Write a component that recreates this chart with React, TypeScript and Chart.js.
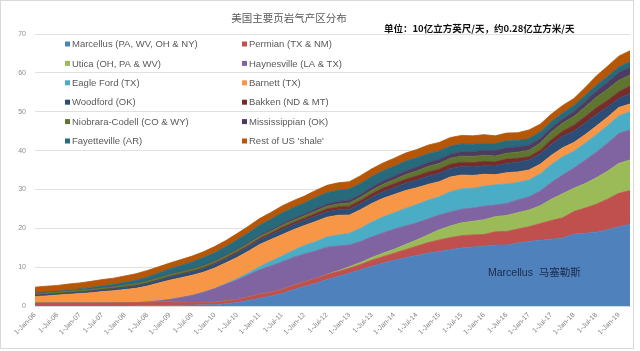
import React, { useEffect, useRef } from 'react';
import { Chart, registerables } from 'chart.js';

Chart.register(...registerables);

// Quarterly categories, Jan-2006 .. Apr-2019
const YEARS = ['06', '07', '08', '09', '10', '11', '12', '13', '14', '15', '16', '17', '18', '19'];
const QUARTER_MONTHS = ['Jan', 'Apr', 'Jul', 'Oct'];
const categories: string[] = YEARS.flatMap((y) => QUARTER_MONTHS.map((m) => `1-${m}-${y}`)).slice(0, 54);

const TITLE = '美国主要页岩气产区分布';
const UNIT_TEXT = '单位：10亿立方英尺/天，约0.28亿立方米/天';
const NOTE_TEXT = 'Marcellus  马塞勒斯';
const Y_TICKS = [0, 10, 20, 30, 40, 50, 60, 70];

const seriesNames = [
  'Marcellus (PA, WV, OH & NY)',
  'Permian (TX & NM)',
  'Utica (OH, PA & WV)',
  'Haynesville (LA & TX)',
  'Eagle Ford (TX)',
  'Barnett (TX)',
  'Woodford (OK)',
  'Bakken (ND & MT)',
  'Niobrara-Codell (CO & WY)',
  'Mississippian (OK)',
  'Fayetteville (AR)',
  "Rest of US 'shale'",
];

const seriesColors = [
  '#4F81BD', '#C0504D', '#9BBB59', '#8064A2', '#4BACC6', '#F79646',
  '#2C4D75', '#772C2A', '#5F7530', '#4D3B62', '#276A7C', '#B65708',
];

const marcellus = [
  0, 0, 0, 0,
  0, 0, 0, 0.02,
  0.03, 0.05, 0.08, 0.1,
  0.15, 0.2, 0.25, 0.3,
  0.35, 0.6, 0.9, 1.4,
  2.0, 2.5, 3.2, 4.2,
  5.0, 5.8, 6.8, 7.6,
  8.4, 9.3, 10.2, 11.0,
  11.8, 12.4, 13.0, 13.6,
  14.0, 14.5, 14.9, 15.2,
  15.4, 15.7, 15.7, 16.2,
  16.6, 16.9, 17.2, 17.5,
  18.5, 18.7, 19.0, 19.6,
  20.4, 21.0,
];
const permian = [
  0.8, 0.8, 0.8, 0.8,
  0.8, 0.8, 0.8, 0.8,
  0.8, 0.8, 0.85, 0.9,
  0.9, 0.75, 0.65, 0.6,
  0.6, 0.7, 0.8, 0.9,
  1.0, 1.0, 1.05, 1.1,
  1.2, 1.25, 1.3, 1.3,
  1.3, 1.4, 1.6, 1.7,
  1.8, 2.1, 2.4, 2.7,
  3.0, 3.1, 3.2, 3.1,
  3.0, 3.4, 3.5, 3.6,
  3.8, 4.3, 4.8, 5.2,
  5.8, 6.5, 7.2, 7.9,
  8.6, 8.7,
];
const utica = [
  0, 0, 0, 0,
  0, 0, 0, 0,
  0, 0, 0, 0,
  0, 0, 0, 0,
  0, 0, 0, 0,
  0, 0, 0, 0,
  0, 0, 0.05, 0.15,
  0.4, 0.5, 0.7, 0.9,
  1.0, 1.3, 1.6, 2.0,
  2.6, 3.0, 3.3, 3.5,
  3.8, 3.9, 4.1, 4.2,
  4.3, 4.6, 5.5, 6.2,
  6.0, 6.3, 6.8, 7.2,
  7.7, 7.9,
];
const haynesville = [
  0, 0, 0, 0,
  0, 0, 0, 0,
  0, 0, 0.1, 0.3,
  0.6, 1.2, 1.8, 2.6,
  3.5, 4.3, 5.0, 5.7,
  6.3, 6.8, 7.1, 7.2,
  7.2, 7.1, 7.0, 6.4,
  5.6, 5.4, 5.3, 5.2,
  5.2, 4.8, 4.4, 4.1,
  3.8, 3.6, 3.5, 3.4,
  3.5, 3.0, 3.1, 3.3,
  3.4, 3.8, 4.3, 4.8,
  5.2, 6.0, 6.6, 7.2,
  7.7, 7.7,
];
const eagleFord = [
  0, 0, 0, 0,
  0, 0, 0, 0,
  0, 0, 0, 0,
  0, 0, 0, 0,
  0, 0.1, 0.3, 0.5,
  0.8, 1.2, 1.5, 1.8,
  2.2, 2.4, 2.6, 2.8,
  3.0, 3.4, 3.8, 4.1,
  4.2, 4.5, 4.7, 4.8,
  4.7, 5.2, 5.2, 5.1,
  5.1, 5.2, 5.0, 4.5,
  4.3, 4.4, 4.6, 4.7,
  4.3, 4.4, 4.5, 4.5,
  4.5, 4.7,
];
const barnett = [
  1.6, 1.8, 2.0, 2.2,
  2.4, 2.6, 2.9, 3.1,
  3.4, 3.7, 4.1, 4.6,
  5.0, 5.1, 5.2, 5.2,
  5.3, 5.4, 5.5, 5.6,
  5.7, 5.6, 5.5, 5.3,
  5.1, 5.2, 5.1, 5.1,
  4.7, 4.8, 4.8, 4.8,
  4.7, 4.6, 4.3, 4.1,
  3.9, 3.8, 3.6, 3.3,
  3.1, 2.6, 2.9, 2.7,
  2.6, 2.5, 2.4, 2.3,
  2.3, 2.2, 2.2, 2.2,
  2.2, 2.0,
];
const woodford = [
  0.3, 0.3, 0.3, 0.35,
  0.35, 0.4, 0.45, 0.5,
  0.55, 0.6, 0.65, 0.7,
  0.8, 0.85, 0.9, 0.9,
  1.0, 1.0, 1.1, 1.1,
  1.2, 1.2, 1.3, 1.3,
  1.3, 1.4, 1.4, 1.4,
  1.5, 1.5, 1.6, 1.7,
  1.8, 1.9, 2.0, 2.1,
  2.1, 2.2, 2.2, 2.2,
  2.2, 2.2, 2.4, 2.5,
  2.6, 2.7, 2.8, 3.0,
  2.9, 3.0, 3.0, 2.6,
  2.3, 2.7,
];
const bakken = [
  0.05, 0.05, 0.05, 0.05,
  0.05, 0.05, 0.05, 0.05,
  0.1, 0.1, 0.1, 0.1,
  0.1, 0.15, 0.15, 0.2,
  0.2, 0.25, 0.3, 0.3,
  0.35, 0.4, 0.5, 0.55,
  0.6, 0.65, 0.7, 0.75,
  0.8, 0.85, 0.9, 0.95,
  0.95, 1.0, 1.05, 1.1,
  1.1, 1.1, 1.1, 1.1,
  1.1, 1.1, 1.1, 1.0,
  0.8, 0.9, 1.2, 1.3,
  1.5, 1.6, 1.7, 1.7,
  1.7, 1.9,
];
const niobrara = [
  0.5, 0.5, 0.45, 0.45,
  0.45, 0.45, 0.45, 0.45,
  0.45, 0.5, 0.5, 0.5,
  0.5, 0.5, 0.5, 0.5,
  0.5, 0.5, 0.5, 0.55,
  0.55, 0.55, 0.6, 0.6,
  0.6, 0.65, 0.7, 0.75,
  0.8, 0.85, 0.9, 1.0,
  1.1, 1.2, 1.3, 1.4,
  1.5, 1.5, 1.6, 1.6,
  1.6, 1.5, 1.5, 1.6,
  1.7, 1.8, 2.0, 2.1,
  2.3, 2.5, 2.7, 2.9,
  3.0, 2.8,
];
const mississippian = [
  0.05, 0.05, 0.05, 0.05,
  0.05, 0.05, 0.05, 0.05,
  0.05, 0.05, 0.05, 0.08,
  0.1, 0.1, 0.1, 0.15,
  0.15, 0.2, 0.2, 0.25,
  0.3, 0.35, 0.4, 0.45,
  0.5, 0.55, 0.6, 0.65,
  0.7, 0.75, 0.8, 0.85,
  0.9, 0.95, 1.0, 1.0,
  1.0, 1.05, 1.1, 1.2,
  1.3, 1.4, 1.4, 1.3,
  1.3, 1.2, 1.1, 1.0,
  1.2, 1.4, 1.6, 1.8,
  1.9, 2.0,
];
const fayetteville = [
  0.05, 0.1, 0.15, 0.2,
  0.3, 0.4, 0.5, 0.6,
  0.7, 0.8, 1.0, 1.2,
  1.4, 1.6, 1.8, 2.0,
  2.1, 2.2, 2.4, 2.5,
  2.6, 2.7, 2.8, 2.8,
  2.8, 2.9, 2.9, 2.9,
  2.9, 2.8, 2.7, 2.6,
  2.5, 2.5, 2.4, 2.3,
  2.2, 2.1, 2.0, 1.9,
  1.8, 1.8, 1.8, 1.7,
  1.7, 1.7, 1.6, 1.6,
  1.6, 1.6, 1.5, 1.5,
  1.5, 1.5,
];
const restOfUS = [
  1.5, 1.5, 1.5, 1.55,
  1.55, 1.6, 1.6, 1.6,
  1.65, 1.7, 1.7, 1.6,
  1.5, 1.5, 1.5, 1.5,
  1.6, 1.6, 1.65, 1.7,
  1.7, 1.75, 1.8, 1.8,
  1.8, 1.85, 1.9, 1.9,
  1.9, 2.0, 2.0, 2.0,
  2.1, 2.1, 2.1, 2.2,
  2.2, 2.2, 2.2, 2.2,
  2.2, 2.0, 2.0, 2.0,
  2.2, 2.0, 1.9, 1.9,
  1.8, 2.0, 2.4, 2.6,
  2.8, 2.8,
];

const seriesValues = [
  marcellus, permian, utica, haynesville, eagleFord, barnett,
  woodford, bakken, niobrara, mississippian, fayetteville, restOfUS,
];

const LATIN = '"Liberation Sans", Arial, "Noto Sans CJK SC", sans-serif';
const CJK = '"Noto Sans CJK SC", "Liberation Sans", sans-serif';

const overlayPlugin = {
  id: 'overlayTexts',
  afterDraw(chart: any) {
    const ctx = chart.ctx as CanvasRenderingContext2D;
    const area = chart.chartArea;
    ctx.save();
    // chart frame
    ctx.strokeStyle = '#d9d9d9';
    ctx.lineWidth = 1;
    ctx.strokeRect(0.5, 0.5, 633, 348);

    // title
    ctx.fillStyle = '#595959';
    ctx.font = `10.5px ${CJK}`;
    ctx.textAlign = 'center';
    ctx.textBaseline = 'middle';
    ctx.fillText(TITLE, 289, 18);

    // unit text
    ctx.fillStyle = '#111111';
    ctx.font = `bold 9.5px ${CJK}`;
    ctx.textAlign = 'left';
    ctx.fillText(UNIT_TEXT, 384, 28);

    // legend (2 columns inside plot area)
    ctx.font = `9.5px ${LATIN}`;
    ctx.textBaseline = 'middle';
    seriesNames.forEach((name, i) => {
      const col = i % 2;
      const row = Math.floor(i / 2);
      const x = col === 0 ? area.left + 30 : area.left + 207;
      const y = area.top + 10 + row * 19.4;
      ctx.fillStyle = seriesColors[i];
      ctx.fillRect(x, y - 2.5, 5, 5);
      ctx.fillStyle = '#595959';
      ctx.fillText(name, x + 7, y + 0.5);
    });

    // annotation on Marcellus area
    ctx.fillStyle = '#1b2a4a';
    ctx.font = `10.5px ${LATIN}`;
    ctx.fillText(NOTE_TEXT, 488, 273);
    ctx.restore();
  },
};

export default function App() {
  const canvasRef = useRef<HTMLCanvasElement | null>(null);

  useEffect(() => {
    if (!canvasRef.current) return;
    const datasets = seriesNames.map((name, i) => ({
      label: name,
      data: seriesValues[i],
      backgroundColor: seriesColors[i],
      borderColor: seriesColors[i],
      borderWidth: 0.8,
      pointRadius: 0,
      pointHoverRadius: 0,
      tension: 0,
      fill: i === 0 ? 'origin' : '-1',
    }));
    const chart = new Chart(canvasRef.current, {
      type: 'line',
      data: { labels: categories, datasets },
      options: {
        animation: false,
        responsive: false,
        devicePixelRatio: 1,
        layout: { padding: { top: 34, right: 10, left: 0, bottom: 0 } },
        plugins: {
          legend: { display: false },
          title: { display: false },
          tooltip: { enabled: false },
        },
        scales: {
          x: {
            type: 'category',
            offset: false,
            grid: { display: false, drawTicks: false },
            border: { display: true, color: '#d9d9d9' },
            afterFit: (scale: any) => { scale.height = 45; },
            ticks: {
              autoSkip: false,
              minRotation: 45,
              maxRotation: 45,
              padding: 5,
              color: '#7f7f7f',
              font: { size: 7, family: LATIN },
              callback: (_v: any, i: number) => (i % 2 === 0 ? categories[i] : null),
            },
          },
          y: {
            stacked: true,
            min: Y_TICKS[0],
            max: Y_TICKS[Y_TICKS.length - 1],
            grid: { color: '#e0e0e0', drawTicks: false },
            border: { display: false },
            afterFit: (scale: any) => { scale.width = 35; },
            ticks: {
              stepSize: 10,
              padding: 9,
              color: '#8c8c8c',
              font: { size: 7, family: LATIN },
            },
          },
        },
      },
      plugins: [overlayPlugin],
    });
    return () => chart.destroy();
  }, []);

  return (
    <div style={{ position: 'fixed', left: 0, top: 0, width: 640, height: 351, background: '#ffffff' }}>
      <canvas ref={canvasRef} width={640} height={351} style={{ width: 640, height: 351, display: 'block' }} />
    </div>
  );
}
